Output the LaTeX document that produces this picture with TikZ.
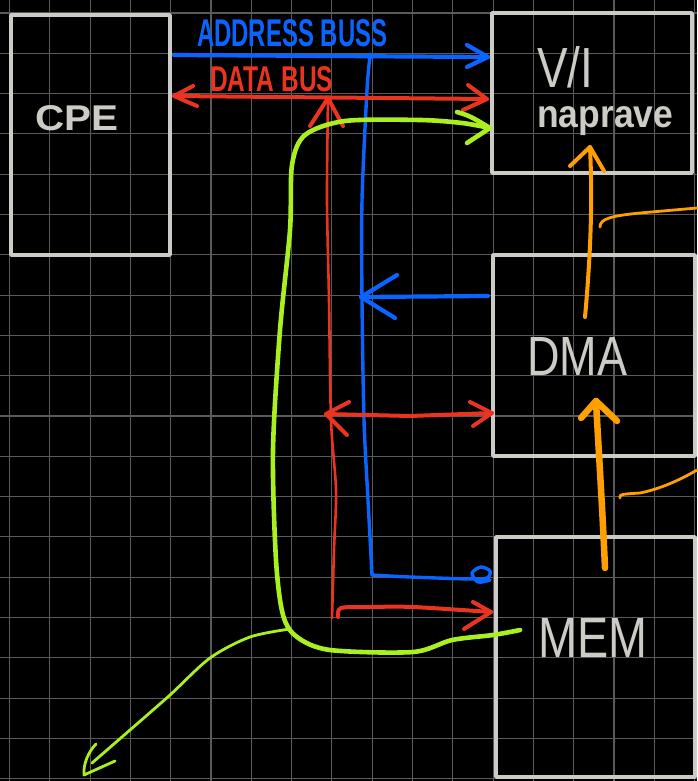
\documentclass[tikz,border=0pt]{standalone}
\usepackage{fontspec}
\setmainfont{Liberation Sans}
\usepackage{graphicx}
\definecolor{bluebus}{RGB}{10,100,255}
\definecolor{redbus}{RGB}{235,52,32}
\definecolor{lime}{RGB}{170,240,30}
\definecolor{orng}{RGB}{255,160,0}
\definecolor{chalk}{RGB}{205,203,197}
\definecolor{gridc}{RGB}{90,90,90}
\begin{document}
\begin{tikzpicture}[x=1pt,y=-1pt,
  gridline/.style={draw=gridc, line width=1.1pt},
  box/.style={draw=chalk, line width=3.6pt, inner sep=0pt, line join=round},
  lbl/.style={text=chalk, inner sep=0pt, anchor=base west},
  pen/.style={line cap=round, line join=round},
  addr/.style={pen, draw=bluebus, line width=4.2pt},
  data/.style={pen, draw=redbus, line width=4pt},
  datathin/.style={pen, draw=redbus, line width=2.6pt},
  gpen/.style={pen, draw=lime, line width=4.6pt},
  gthin/.style={pen, draw=lime, line width=2.8pt},
  open/.style={pen, draw=orng, line width=4pt},
  othick/.style={pen, draw=orng, line width=6.5pt},
  othin/.style={pen, draw=orng, line width=2.8pt}]
\fill[black] (0,0) rectangle (697,781);
\useasboundingbox (0,0) rectangle (697,781);
% grid
\foreach \i in {0,...,17} \draw[gridline] ({9.5+40.3*\i},0) -- ({9.5+40.3*\i},781);
\foreach \j in {0,...,19} \draw[gridline] (0,{13+40.3*\j}) -- (697,{13+40.3*\j});
% boxes
\node[box, minimum width=159pt, minimum height=240pt] (cpe) at (90.5,135) {};
\node[box, minimum width=200pt, minimum height=160pt] (vi) at (592,93) {};
\node[box, minimum width=202pt, minimum height=201pt] (dma) at (594,355.5) {};
\node[box, minimum width=199pt, minimum height=240pt] (mem) at (595.5,657) {};
% labels
\node[lbl] (tcpe) at (35,130) {\resizebox{83pt}{25pt}{\bfseries CPE}};
\node[lbl] (tvi) at (537,88) {\resizebox{56pt}{41pt}{V/I}};
\node[lbl] (tnap) at (537,128) {\resizebox{136pt}{21pt}{\bfseries naprave}};
\node[lbl] (tdma) at (527,375) {\resizebox{100pt}{38pt}{DMA}};
\node[lbl] (tmem) at (538,657) {\resizebox{109pt}{39pt}{MEM}};
\node[lbl, text=bluebus] (taddr) at (197,47) {\resizebox{190pt}{27pt}{\bfseries ADDRESS BUSS}};
\node[lbl, text=redbus] (tdata) at (210,92) {\resizebox{123pt}{25pt}{\bfseries DATA BUS}};
% coordinates
\coordinate (a0) at (174,55);
\coordinate (a1) at (488,57);
\coordinate (ja) at (370,56);
\coordinate (jb) at (372,575);
\coordinate (d0) at (488,296);
\coordinate (d1) at (361,297);
\coordinate (r0) at (174,96);
\coordinate (r1) at (487,99);
\coordinate (rt) at (328,98);
\coordinate (rb) at (332,618);
\coordinate (m0) at (326,414);
\coordinate (m1) at (492,413);
\coordinate (b0) at (338,617);
\coordinate (b1) at (491,612);
\coordinate (g0) at (520,630);
\coordinate (g1) at (490,128);
\coordinate (gs) at (290,629);
\coordinate (gt) at (92,763);
\coordinate (gh) at (84,775);
\coordinate (o0) at (605,568);
\coordinate (o1) at (596,401);
\coordinate (p0) at (585,317);
\coordinate (p1) at (590,147);
\coordinate (q0) at (600,227);
\coordinate (q1) at (697,208);
\coordinate (s0) at (620,498);
\coordinate (s1) at (697,470);
% address bus
\draw[addr] (a0) -- (a1);
\draw[addr] (467,45) -- (a1) -- (467,67);
\fill[bluebus] (ja) circle (3.5pt);
\draw[addr, line width=3.4pt] plot[smooth] coordinates {(ja) (367,90) (362,200) (362,300) (364,420) (368,500) (jb)};
\draw[addr, line width=3.4pt] plot[smooth] coordinates {(jb) (410,577) (470,579) (487,578) (490,571) (481,567) (472,573) (478,582) (490,580)};
\draw[addr] (d0) -- (d1);
\draw[addr] (397,275) -- (d1) -- (395,318);
% data bus
\draw[data] (r0) -- (r1);
\draw[data] (193,86) -- (r0) -- (197,106);
\draw[data] (468,85) -- (r1) -- (463,110);
\draw[datathin] plot[smooth] coordinates {(rt) (327,200) (329,300) (331,420) (336,490) (334,550) (rb)};
\draw[data] (310,126) -- (rt) -- (343,126);
\draw[data] (m0) -- (410,416) -- (m1);
\draw[data] (349,402) -- (m0) -- (347,435);
\draw[data] (470,402) -- (m1) -- (473,426);
\draw[data] plot[smooth] coordinates {(b0) (341,608) (370,607) (413,607) (b1)};
\draw[data] (473,602) -- (b1) -- (464,629);
% green loop
\draw[gpen] plot[smooth] coordinates {(g0) (493,635) (452,640) (413,652) (330,650) (297,637) (283,615) (276,560) (273,450) (280,330) (290,230) (292,165) (305,135) (345,121) (420,120) (462,123) (g1)};
\draw[gpen] (457,112) .. controls (470,116) .. (g1) -- (467,143);
\draw[gthin] plot[smooth] coordinates {(gs) (250,637) (210,658) (170,695) (130,730) (gt)};
\draw[gthin] (96,744) .. controls (88,752) and (83,765) .. (gh) -- (115,761);
% orange
\draw[othick] (o0) .. controls (602,500) and (598,440) .. (o1);
\draw[othick] (581,418) -- (o1) -- (617,421);
\draw[open] (p0) .. controls (592,240) and (592,190) .. (p1);
\draw[open] (570,166) -- (p1) -- (604,171);
\draw[othin] (q0) .. controls (600,219) and (610,216) .. (640,213) -- (q1);
\draw[othin] (s0) .. controls (618,494) and (625,494) .. (640,493) .. controls (660,489) and (680,480) .. (s1);
\end{tikzpicture}
\end{document}
